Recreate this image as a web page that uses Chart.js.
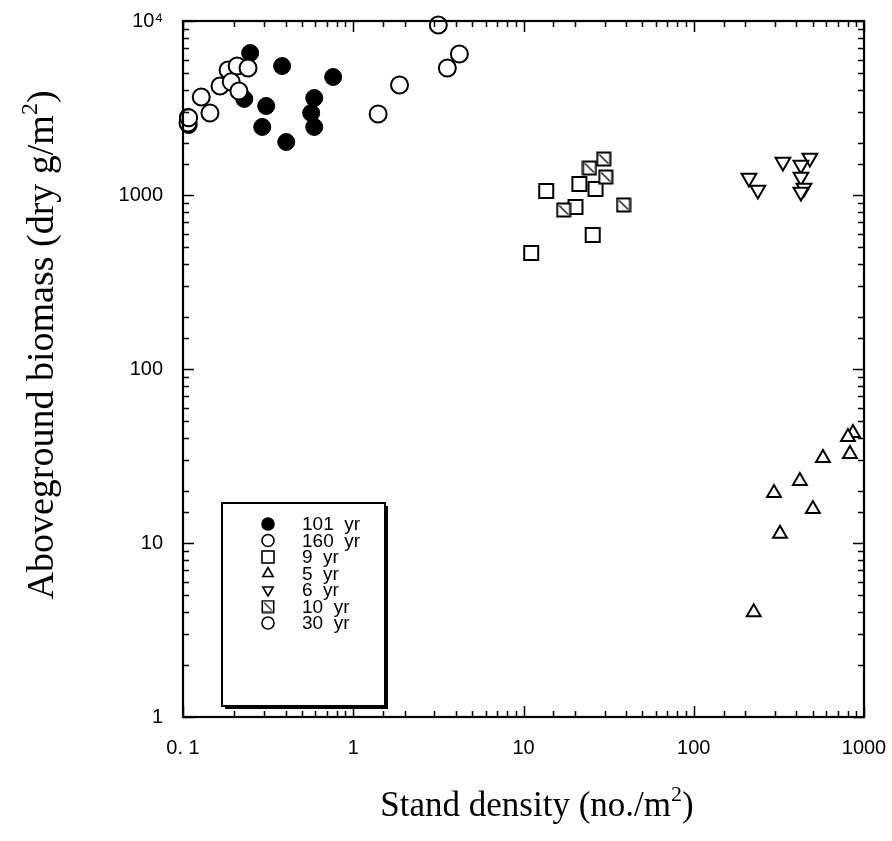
<!DOCTYPE html>
<html><head><meta charset="utf-8">
<script src="https://cdn.jsdelivr.net/npm/chart.js@4.4.1/dist/chart.umd.min.js"></script>
<style>html,body{margin:0;padding:0;background:#fff;}#wrap{width:892px;height:841px;}</style>
</head><body><div id="wrap"><canvas id="c" width="892" height="841"></canvas></div>
<script>
// ---- data ----
const seriesLabels = ['101  yr', '160  yr', '9  yr', '5  yr', '6  yr', '10  yr', '30  yr'];

const yr101_x = [0.248, 0.382, 0.762, 0.590, 0.229, 0.308, 0.566, 0.590, 0.292, 0.404, 0.107, 0.108];
const yr101_y = [6546, 5510, 4766, 3608, 3565, 3247, 2961, 2460, 2460, 2016, 2806, 2525];

const yr160_x = [0.128, 0.144, 0.107, 0.108, 0.165, 0.184, 0.208, 0.241, 0.192, 0.213];
const yr160_y = [3657, 2961, 2594, 2780, 4230, 5228, 5510, 5370, 4470, 3960];

const yr9_x = [13.6, 21.3, 26.5, 20.2, 25.5, 11.1];
const yr9_y = [1054, 1156, 1083, 853, 589, 464];

const yr5_x = [861, 805, 827, 574, 420, 296, 501, 321, 225];
const yr5_y = [42.9, 40.6, 32.5, 30.8, 22.7, 19.4, 15.7, 11.3, 4.0];

const yr6_x = [334, 211, 238, 481, 426, 426, 444, 426];
const yr6_y = [1549, 1253, 1069, 1632, 1487, 1270, 1097, 1040];

const yr10_x = [29.6, 24.4, 30.4, 17.2, 38.7];
const yr10_y = [1610, 1429, 1268, 820, 877];

const yr30_x = [3.16, 4.2, 3.57, 1.87, 1.40];
const yr30_y = [9484, 6457, 5370, 4290, 2924];

const xTickLabels = {'0.1': '0. 1', '1': '1', '10': '10', '100': '100', '1000': '1000'};
const yTickLabels = {'1': '1', '10': '10', '100': '100', '1000': '1000', '10000': '10\u2074'};

const xTitle = ['Stand density (no./m', '2', ')'];
const yTitle = ['Aboveground biomass (dry g/m', '2', ')'];

// ---- helpers ----
const pts = (xs, ys) => xs.map((x, i) => ({x: x, y: ys[i]}));

function crossedSquare(size, lw, dlw) {
  const c = document.createElement('canvas');
  c.width = size; c.height = size;
  const g = c.getContext('2d');
  const o = lw / 2 + 0.5;
  g.fillStyle = '#fff';
  g.fillRect(o, o, size - 2 * o, size - 2 * o);
  g.strokeStyle = '#000'; g.lineWidth = lw;
  g.strokeRect(o, o, size - 2 * o, size - 2 * o);
  g.lineWidth = dlw;
  g.beginPath(); g.moveTo(o + 2, o + 2); g.lineTo(size - o - 2, size - o - 2); g.stroke();
  return c;
}
const xSqBig = crossedSquare(16, 2, 1.3);
const xSqSmall = crossedSquare(14, 1.6, 1.2);

const SERIF = '"Liberation Serif", "Times New Roman", serif';
const SANS = '"Liberation Sans", Arial, sans-serif';

const datasets = [
  {label: seriesLabels[0], data: pts(yr101_x, yr101_y), pointStyle: 'circle', pointRadius: 8.5,
   backgroundColor: '#000', borderColor: '#000', borderWidth: 1, order: 5},
  {label: seriesLabels[1], data: pts(yr160_x, yr160_y), pointStyle: 'circle', pointRadius: 8.5,
   backgroundColor: '#fff', borderColor: '#000', borderWidth: 2, order: 1},
  {label: seriesLabels[2], data: pts(yr9_x, yr9_y), pointStyle: 'rect', pointRadius: 9.9,
   backgroundColor: '#fff', borderColor: '#000', borderWidth: 2, order: 4},
  {label: seriesLabels[3], data: pts(yr5_x, yr5_y), pointStyle: 'triangle', pointRadius: 8,
   backgroundColor: '#fff', borderColor: '#000', borderWidth: 2, order: 1},
  {label: seriesLabels[4], data: pts(yr6_x, yr6_y), pointStyle: 'triangle', rotation: 180, pointRadius: 8.5,
   backgroundColor: '#fff', borderColor: '#000', borderWidth: 2, order: 1},
  {label: seriesLabels[5], data: pts(yr10_x, yr10_y), pointStyle: xSqBig, pointRadius: 8,
   backgroundColor: '#fff', borderColor: '#000', borderWidth: 2, order: 2},
  {label: seriesLabels[6], data: pts(yr30_x, yr30_y), pointStyle: 'circle', pointRadius: 8.5,
   backgroundColor: '#fff', borderColor: '#000', borderWidth: 2, order: 1}
];
datasets.forEach(d => { d.clip = false; d.pointHoverRadius = d.pointRadius; });

// frame + inward ticks on all four sides
const framePlugin = {
  id: 'frame',
  afterDraw(chart) {
    const ctx = chart.ctx, a = chart.chartArea;
    ctx.save();
    ctx.strokeStyle = '#000';
    ctx.lineWidth = 1.5;
    const xs = chart.scales.x, ys = chart.scales.y;
    xs.ticks.forEach(t => {
      const v = t.value, px = Math.round(xs.getPixelForValue(v)) + 0.5;
      const major = Math.abs(Math.log10(v) - Math.round(Math.log10(v))) < 1e-6;
      const len = major ? 11 : 6;
      ctx.beginPath();
      ctx.moveTo(px, a.bottom); ctx.lineTo(px, a.bottom - len);
      ctx.moveTo(px, a.top); ctx.lineTo(px, a.top + len);
      ctx.stroke();
    });
    ys.ticks.forEach(t => {
      const v = t.value, py = Math.round(ys.getPixelForValue(v)) + 0.5;
      const major = Math.abs(Math.log10(v) - Math.round(Math.log10(v))) < 1e-6;
      const len = major ? 11 : 6;
      ctx.beginPath();
      ctx.moveTo(a.left, py); ctx.lineTo(a.left + len, py);
      ctx.moveTo(a.right, py); ctx.lineTo(a.right - len, py);
      ctx.stroke();
    });
    ctx.lineWidth = 2.2;
    ctx.strokeRect(a.left, a.top, a.right - a.left, a.bottom - a.top);
    ctx.restore();
  }
};

function drawSupText(ctx, parts, size) {
  const f1 = size + 'px ' + SERIF, f2 = Math.round(size * 0.62) + 'px ' + SERIF;
  ctx.font = f1; const w0 = ctx.measureText(parts[0]).width;
  ctx.font = f2; const w1 = ctx.measureText(parts[1]).width;
  ctx.font = f1; const w2 = ctx.measureText(parts[2]).width;
  const tot = w0 + w1 + w2;
  let x = -tot / 2;
  ctx.textBaseline = 'alphabetic'; ctx.textAlign = 'left';
  ctx.font = f1; ctx.fillText(parts[0], x, 0); x += w0;
  ctx.font = f2; ctx.fillText(parts[1], x, -size * 0.42); x += w1;
  ctx.font = f1; ctx.fillText(parts[2], x, 0);
}

const titlesPlugin = {
  id: 'titles',
  afterDraw(chart) {
    const ctx = chart.ctx;
    ctx.save();
    ctx.fillStyle = '#000';
    ctx.translate(537, 816);
    drawSupText(ctx, xTitle, 35);
    ctx.restore();
    ctx.save();
    ctx.fillStyle = '#000';
    ctx.translate(53, 345);
    ctx.rotate(-Math.PI / 2);
    drawSupText(ctx, yTitle, 38);
    ctx.restore();
  }
};

const legendPlugin = {
  id: 'boxLegend',
  afterDraw(chart) {
    const ctx = chart.ctx, a = chart.chartArea;
    const L = a.left + 39, T = a.top + 482, W = 163, H = 203;
    ctx.save();
    ctx.fillStyle = '#000';
    ctx.fillRect(L + 3, T + 3, W, H);
    ctx.fillStyle = '#fff';
    ctx.fillRect(L, T, W, H);
    ctx.strokeStyle = '#000'; ctx.lineWidth = 2;
    ctx.strokeRect(L, T, W, H);
    const mx = L + 46, tx = L + 80, y0 = T + 21, dy = 16.5;
    ctx.font = '19px ' + SANS;
    ctx.textBaseline = 'middle'; ctx.textAlign = 'left';
    chart.data.datasets.forEach((d, i) => {
      const y = y0 + i * dy;
      ctx.lineWidth = 1.6; ctx.strokeStyle = '#000';
      const st = d.pointStyle;
      if (st === 'circle') {
        ctx.beginPath(); ctx.arc(mx, y, 6, 0, Math.PI * 2);
        ctx.fillStyle = d.backgroundColor; ctx.fill(); ctx.stroke();
      } else if (st === 'rect') {
        ctx.fillStyle = '#fff';
        ctx.fillRect(mx - 6, y - 6, 12, 12); ctx.strokeRect(mx - 6, y - 6, 12, 12);
      } else if (st === 'triangle') {
        const r = 6, s = d.rotation === 180 ? -1 : 1;
        ctx.beginPath();
        ctx.moveTo(mx, y - s * r);
        ctx.lineTo(mx + r * 0.866, y + s * r * 0.5);
        ctx.lineTo(mx - r * 0.866, y + s * r * 0.5);
        ctx.closePath(); ctx.fillStyle = '#fff'; ctx.fill(); ctx.stroke();
      } else {
        ctx.drawImage(xSqSmall, mx - 7, y - 7);
      }
      ctx.fillStyle = '#000';
      ctx.fillText(d.label, tx, y + 1);
    });
    ctx.restore();
  }
};

new Chart(document.getElementById('c'), {
  type: 'scatter',
  data: {datasets: datasets},
  options: {
    responsive: false,
    devicePixelRatio: 1,
    animation: false,
    events: [],
    layout: {padding: {top: 21, right: 28, left: 0, bottom: 0}},
    plugins: {legend: {display: false}, tooltip: {enabled: false}},
    scales: {
      x: {
        type: 'logarithmic', min: 0.1, max: 1000,
        grid: {display: false, drawTicks: false},
        border: {display: false},
        afterFit: s => { s.height = 124; s.paddingLeft = 0; s.paddingRight = 0; s.paddingTop = 0; s.paddingBottom = 0; },
        ticks: {
          autoSkip: false, maxRotation: 0, padding: 19, color: '#000',
          font: {family: SANS, size: 20},
          callback: v => xTickLabels[String(v)] || ''
        }
      },
      y: {
        type: 'logarithmic', min: 1, max: 10000,
        grid: {display: false, drawTicks: false},
        border: {display: false},
        afterFit: s => { s.width = 183; s.paddingLeft = 0; s.paddingRight = 0; s.paddingTop = 0; s.paddingBottom = 0; },
        ticks: {
          autoSkip: false, padding: 20, color: '#000',
          font: {family: SANS, size: 20},
          callback: v => yTickLabels[String(v)] || ''
        }
      }
    }
  },
  plugins: [framePlugin, titlesPlugin, legendPlugin]
});
</script></body></html>
